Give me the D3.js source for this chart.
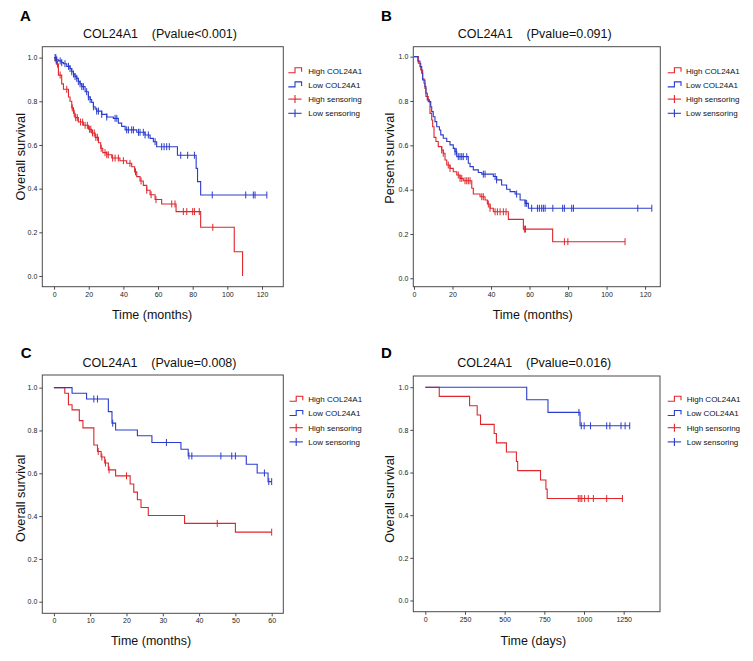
<!DOCTYPE html>
<html><head><meta charset="utf-8">
<script src="https://cdn.jsdelivr.net/npm/d3@7"></script>
<style>
body{margin:0;background:#fff;}
svg{display:block;font-family:Arial,"Liberation Sans",sans-serif;}
</style></head><body>
<svg id="c" width="753" height="661"></svg>
<script>
// ---------- DATA ----------
const legendLabels = ["High COL24A1", "Low COL24A1", "High sensoring", "Low sensoring"];
const yTicks = [0, 0.2, 0.4, 0.6, 0.8, 1.0];
const aXTicks = [0, 20, 40, 60, 80, 100, 120];
const bXTicks = [0, 20, 40, 60, 80, 100, 120];
const cXTicks = [0, 10, 20, 30, 40, 50, 60];
const dXTicks = [0, 250, 500, 750, 1000, 1250];
const titles = ["COL24A1    (Pvalue<0.001)", "COL24A1    (Pvalue=0.091)", "COL24A1    (Pvalue=0.008)", "COL24A1    (Pvalue=0.016)"];
const letters = ["A", "B", "C", "D"];
const yLabels = ["Overall survival", "Persent survival", "Overall survival", "Overall survival"];
const xLabels = ["Time (months)", "Time (months)", "Time (months)", "Time (days)"];

// Panel A
const aHighT = [0.6, 1.5, 2.5, 4.4, 5.4, 8.3, 9.2, 10.2, 11.2, 12.1, 14.0, 16.9, 19.8, 21.7, 23.7, 25.6, 26.9, 28.1, 30.4, 33.3, 38.0, 41.9, 44.8, 46.5, 47.7, 49.6, 51.5, 53.5, 55.4, 58.3, 62.1, 70.4, 84.6, 104.0, 108.8];
const aHighS = [0.985, 0.97, 0.92, 0.88, 0.855, 0.82, 0.80, 0.77, 0.745, 0.725, 0.705, 0.69, 0.672, 0.655, 0.635, 0.61, 0.585, 0.565, 0.555, 0.54, 0.528, 0.516, 0.50, 0.477, 0.455, 0.435, 0.415, 0.393, 0.372, 0.35, 0.33, 0.295, 0.223, 0.111, 0.0];
const aHighC = [1.2, 2.0, 3.5, 7.3, 10.5, 11.6, 12.5, 13.4, 15.3, 16.5, 17.9, 19.2, 20.5, 21.2, 22.2, 23.2, 24.1, 25.0, 27.2, 29.4, 30.4, 31.3, 33.8, 35.2, 37.1, 40.0, 43.8, 47.0, 50.2, 53.5, 56.0, 58.8, 67.9, 69.8, 74.6, 76.6, 80.0, 81.0, 83.8, 91.6];
const aLowT = [1.5, 2.5, 4.4, 5.4, 7.3, 9.2, 10.2, 11.2, 12.1, 13.1, 14.0, 15.0, 16.0, 17.9, 19.8, 20.8, 21.7, 22.7, 23.7, 24.6, 27.5, 30.4, 34.2, 37.1, 39.0, 41.0, 47.7, 52.5, 55.4, 57.3, 59.2, 71.2, 82.0, 82.8, 84.6];
const aLowS = [0.99, 0.985, 0.977, 0.972, 0.96, 0.95, 0.935, 0.925, 0.913, 0.905, 0.89, 0.88, 0.867, 0.844, 0.82, 0.808, 0.795, 0.775, 0.765, 0.755, 0.74, 0.728, 0.722, 0.70, 0.685, 0.669, 0.658, 0.646, 0.63, 0.615, 0.592, 0.553, 0.493, 0.432, 0.371];
const aLowC = [0.6, 1.0, 1.5, 3.5, 4.4, 6.3, 8.3, 9.2, 10.2, 11.2, 12.1, 13.1, 14.0, 15.0, 16.0, 16.9, 18.8, 19.8, 20.8, 22.7, 24.6, 25.6, 27.5, 30.4, 35.2, 36.2, 41.9, 42.9, 44.8, 45.8, 48.7, 49.6, 51.5, 52.5, 54.4, 58.3, 62.1, 63.5, 65.0, 66.5, 73.1, 77.1, 81.0, 91.3, 110.6, 115.0, 116.0, 122.8];

// Panel B
const bHighT = [2.25, 3.5, 4.5, 5.2, 5.7, 6.2, 7.4, 8.3, 9.2, 9.7, 10.4, 11.4, 12.6, 14.4, 15.2, 16.1, 17.0, 18.7, 20.4, 22.2, 23.9, 25.6, 30.0, 30.8, 34.3, 36.9, 38.1, 39.5, 41.2, 49.0, 56.8, 72.0];
const bHighS = [0.97, 0.94, 0.90, 0.88, 0.857, 0.82, 0.797, 0.744, 0.714, 0.684, 0.636, 0.617, 0.594, 0.579, 0.564, 0.534, 0.511, 0.496, 0.481, 0.466, 0.451, 0.44, 0.406, 0.38, 0.368, 0.353, 0.335, 0.316, 0.30, 0.266, 0.222, 0.165];
const bHighC = [14.4, 15.2, 17.8, 18.7, 23.0, 23.9, 24.8, 26.5, 27.4, 28.2, 29.1, 35.2, 36.0, 38.6, 39.5, 42.1, 43.3, 44.7, 46.4, 47.8, 57.3, 57.9, 78.1, 79.9, 109.6];
const bLowT = [2.0, 3.1, 4.0, 4.5, 5.7, 6.2, 6.9, 8.0, 8.7, 9.2, 10.0, 10.9, 11.8, 13.2, 13.9, 15.2, 17.0, 18.7, 20.4, 21.3, 22.2, 28.2, 29.1, 30.8, 33.4, 35.2, 41.2, 42.9, 45.5, 48.1, 49.9, 52.5, 55.1, 57.7, 59.4];
const bLowS = [0.98, 0.955, 0.925, 0.895, 0.865, 0.835, 0.805, 0.797, 0.774, 0.752, 0.729, 0.707, 0.684, 0.669, 0.647, 0.632, 0.617, 0.602, 0.586, 0.571, 0.549, 0.519, 0.504, 0.489, 0.477, 0.47, 0.459, 0.444, 0.421, 0.402, 0.391, 0.38, 0.353, 0.338, 0.316];
const bLowC = [21.3, 22.0, 23.0, 23.9, 24.8, 25.6, 27.4, 36.0, 36.9, 42.1, 42.9, 53.3, 57.7, 58.5, 61.1, 64.1, 65.1, 66.3, 67.2, 68.1, 72.1, 77.2, 78.1, 81.9, 82.8, 116.2, 123.5];

// Panel C
const cHighT = [3, 4, 5, 7, 8, 11, 12, 13, 14, 15, 17, 21, 22, 23, 24, 26, 36, 50];
const cHighS = [0.974, 0.92, 0.896, 0.846, 0.812, 0.732, 0.702, 0.676, 0.648, 0.616, 0.588, 0.55, 0.512, 0.476, 0.44, 0.403, 0.366, 0.325];
const cHighC = [12.2, 13.2, 14.2, 15.2, 20, 45, 60];
const cLowT = [5, 9, 15, 16, 17, 23, 27, 35, 37, 53, 56, 59];
const cLowS = [0.974, 0.947, 0.888, 0.834, 0.802, 0.775, 0.744, 0.712, 0.681, 0.642, 0.601, 0.561];
const cLowC = [11, 12, 16.2, 31, 37.2, 38, 46, 49, 50, 58, 59.2, 60];

// Panel D
const dHighT = [88, 279, 327, 348, 434, 448, 511, 574, 582, 726, 760, 768];
const dHighS = [0.957, 0.913, 0.870, 0.826, 0.783, 0.739, 0.696, 0.652, 0.609, 0.565, 0.522, 0.478];
const dHighC = [964, 975, 986, 1004, 1027, 1059, 1143, 1242];
const dLowT = [639, 773, 975];
const dLowS = [0.941, 0.882, 0.819];
const dLowC = [968, 983, 1001, 1041, 1143, 1163, 1233, 1259, 1288];

// ---------- LAYOUT ----------
const RED = "#e0262c", BLUE = "#2a3ccc", FRAME = "#4a4a4a";
const panels = [
  {i:0, frame:{x:42.3,y:46.7,w:241,h:240}, xd:[-6.8,132.3], yd:[-0.049,1.050], xt:aXTicks,
   high:[aHighT,aHighS,aHighC], low:[aLowT,aLowS,aLowC],
   letterPos:[20,20.7], titlePos:[160,38.3], xlabPos:[152,319], ylabPos:[25,156.7], leg:[288.3,308.3,70.7]},
  {i:1, frame:{x:413.3,y:46.7,w:247,h:240}, xd:[-0.36,127.9], yd:[-0.038,1.045], xt:bXTicks,
   high:[bHighT,bHighS,bHighC], low:[bLowT,bLowS,bLowC],
   letterPos:[381,20.7], titlePos:[534.7,38.3], xlabPos:[532.7,319], ylabPos:[394,158.3], leg:[667.7,686,70.7]},
  {i:2, frame:{x:42.3,y:375,w:241,h:238.3}, xd:[-3.2,63.2], yd:[-0.054,1.059], xt:cXTicks,
   high:[cHighT,cHighS,cHighC], low:[cLowT,cLowS,cLowC],
   letterPos:[20.7,358.3], titlePos:[159.5,366.7], xlabPos:[151,645], ylabPos:[25,498.3], leg:[289.5,308.3,399.3]},
  {i:3, frame:{x:413.3,y:376,w:246.7,h:235.7}, xd:[-75.6,1478.8], yd:[-0.0526,1.0526], xt:dXTicks,
   high:[dHighT,dHighS,dHighC], low:[dLowT,dLowS,dLowC],
   letterPos:[381,358.3], titlePos:[534.3,366.7], xlabPos:[533.3,645], ylabPos:[394,499], leg:[667.7,686.7,399.3]}
];

const svg = d3.select("#c");

function kmPoints(T, S, C) {
  const pts = [[0, 1]];
  T.forEach((t, k) => pts.push([t, S[k]]));
  const end = Math.max(T[T.length - 1], C.length ? C[C.length - 1] : 0);
  if (end > T[T.length - 1]) pts.push([end, S[S.length - 1]]);
  return pts;
}
function survAt(T, S, t) {
  let s = 1;
  for (let k = 0; k < T.length; k++) if (T[k] <= t) s = S[k];
  return s;
}

panels.forEach(p => {
  const f = p.frame;
  const x = d3.scaleLinear().domain(p.xd).range([f.x, f.x + f.w]);
  const y = d3.scaleLinear().domain(p.yd).range([f.y + f.h, f.y]);
  const g = svg.append("g");

  // frame
  g.append("rect").attr("x", f.x).attr("y", f.y).attr("width", f.w).attr("height", f.h)
    .attr("fill", "none").attr("stroke", FRAME).attr("stroke-width", 1);

  // axes
  const ya = d3.axisLeft(y).tickValues(yTicks).tickFormat(d3.format(".1f")).tickSize(3).tickPadding(2);
  const xa = d3.axisBottom(x).tickValues(p.xt).tickFormat(d3.format("d")).tickSize(3).tickPadding(2);
  const gy = g.append("g").attr("transform", `translate(${f.x},0)`).call(ya);
  const gx = g.append("g").attr("transform", `translate(0,${f.y + f.h})`).call(xa);
  [gx, gy].forEach(a => {
    a.select(".domain").remove();
    a.selectAll(".tick line").attr("stroke", FRAME);
    a.selectAll(".tick text").attr("fill", "#222").style("font-size", "7px")
      .style("font-family", "Arial, 'Liberation Sans', sans-serif");
  });

  // curves
  const line = d3.line().x(d => x(d[0])).y(d => y(d[1])).curve(d3.curveStepAfter);
  [[p.high, RED], [p.low, BLUE]].forEach(([ser, col]) => {
    const [T, S, C] = ser;
    g.append("path").datum(kmPoints(T, S, C)).attr("d", line)
      .attr("fill", "none").attr("stroke", col).attr("stroke-width", 1.1);
    g.selectAll(null).data(C).enter().append("line")
      .attr("x1", d => x(d)).attr("x2", d => x(d))
      .attr("y1", d => y(survAt(T, S, d)) - 3.5).attr("y2", d => y(survAt(T, S, d)) + 3.5)
      .attr("stroke", col).attr("stroke-width", 1);
  });

  // texts
  g.append("text").attr("x", p.letterPos[0]).attr("y", p.letterPos[1]).text(letters[p.i])
    .style("font-size", "15px").style("font-weight", "bold").attr("fill", "#000");
  g.append("text").attr("x", p.titlePos[0]).attr("y", p.titlePos[1]).text(titles[p.i])
    .attr("text-anchor", "middle").style("white-space", "pre").style("font-size", "12.5px").attr("fill", "#111");
  g.append("text").attr("x", p.xlabPos[0]).attr("y", p.xlabPos[1]).text(xLabels[p.i])
    .attr("text-anchor", "middle").style("font-size", "12.5px").attr("fill", "#111");
  g.append("text").attr("transform", `translate(${p.ylabPos[0]},${p.ylabPos[1]}) rotate(-90)`)
    .text(yLabels[p.i]).attr("text-anchor", "middle").style("font-size", "12.8px").attr("fill", "#111");

  // legend
  const [lx, tx, ly0] = p.leg;
  const cols = [RED, BLUE, RED, BLUE];
  legendLabels.forEach((lab, k) => {
    const cy = ly0 + k * 14.2;
    if (k < 2) {
      g.append("path").attr("d", `M${lx},${cy + 2}H${lx + 6.7}V${cy - 3}H${lx + 13.3}V${cy + 1}`)
        .attr("fill", "none").attr("stroke", cols[k]).attr("stroke-width", 1.1);
    } else {
      g.append("line").attr("x1", lx).attr("x2", lx + 13.3).attr("y1", cy).attr("y2", cy)
        .attr("stroke", cols[k]).attr("stroke-width", 1.1);
      g.append("line").attr("x1", lx + 6.7).attr("x2", lx + 6.7).attr("y1", cy - 4).attr("y2", cy + 4)
        .attr("stroke", cols[k]).attr("stroke-width", 1.1);
    }
    g.append("text").attr("x", tx).attr("y", cy).attr("dy", "0.35em").text(lab)
      .style("font-size", "8px").attr("fill", "#111");
  });
});
</script>
</body></html>
